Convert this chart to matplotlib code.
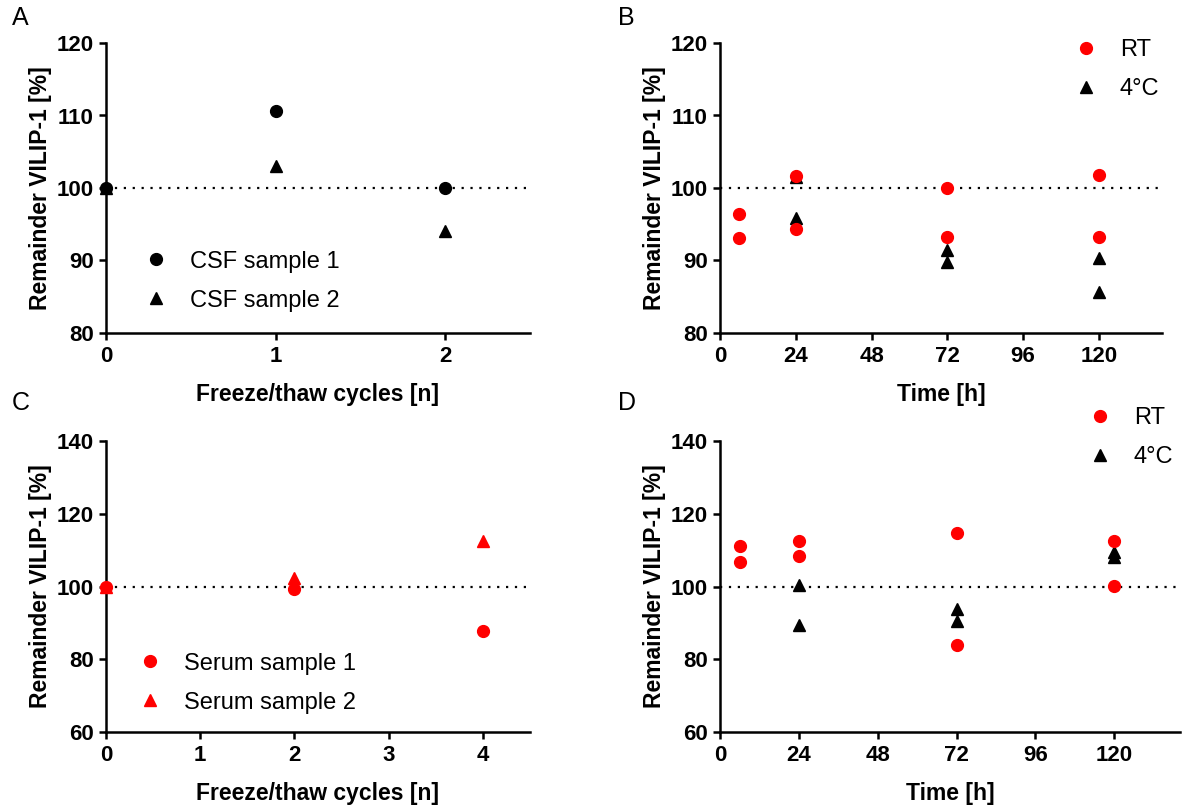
import matplotlib.pyplot as plt

plt.rcParams["font.family"] = ["Liberation Sans", "DejaVu Sans"]

# Panel A: CSF freeze/thaw
cycles_a = [0, 1, 2]
csf_sample1 = [100.0, 110.6, 100.0]
csf_sample2 = [100.0, 103.0, 94.0]

# Panel B: CSF storage time
rt_time_b = [6, 6, 24, 24, 72, 72, 120, 120]
rt_vals_b = [96.4, 93.1, 101.7, 94.4, 100.0, 93.2, 101.8, 93.2]
cold_time_b = [24, 24, 72, 72, 120, 120]
cold_vals_b = [101.5, 95.9, 91.4, 89.8, 90.4, 85.6]

# Panel C: serum freeze/thaw
cycles_c = [0, 2, 4]
serum_sample1 = [100.0, 99.4, 87.8]
serum_sample2 = [100.0, 102.4, 112.5]

# Panel D: serum storage time
rt_time_d = [6, 6, 24, 24, 72, 72, 120, 120]
rt_vals_d = [111.1, 106.6, 112.5, 108.3, 114.8, 83.8, 112.5, 100.2]
cold_time_d = [24, 24, 72, 72, 120, 120]
cold_vals_d = [100.4, 89.4, 93.7, 90.6, 109.5, 108.1]

W, H = 1184, 805
fig = plt.figure(figsize=(W / 100, H / 100), dpi=100)


def make_axes(left, right, top, bottom):
    return fig.add_axes([left / W, 1 - bottom / H, (right - left) / W, (bottom - top) / H])


def style(ax, xlabel):
    for side in ["top", "right"]:
        ax.spines[side].set_visible(False)
    for side in ["left", "bottom"]:
        ax.spines[side].set_linewidth(1.8)
    ax.tick_params(width=1.8, length=5, labelsize=16, pad=4)
    for lab in ax.get_xticklabels() + ax.get_yticklabels():
        lab.set_fontweight("bold")
    ax.set_xlabel(xlabel, fontsize=16.5, fontweight="bold", labelpad=12)
    ax.set_ylabel("Remainder VILIP-1 [%]", fontsize=16.5, fontweight="bold", labelpad=3)
    ax.axhline(100, color="black", linestyle=(0, (1, 3)), linewidth=1.6, zorder=1)


ms = 8.5
leg_kw = dict(frameon=False, fontsize=17, handletextpad=0.95, labelspacing=0.72, handlelength=1.0)

ax_a = make_axes(106, 530, 43, 333)
ax_b = make_axes(720, 1162, 43, 333)
ax_c = make_axes(106, 530, 441, 732)
ax_d = make_axes(720, 1180, 441, 732)

# A
ax_a.plot(cycles_a, csf_sample1, "o", color="black", ms=ms, label="CSF sample 1", clip_on=False, zorder=3)
ax_a.plot(cycles_a, csf_sample2, "^", color="black", ms=ms, label="CSF sample 2", clip_on=False, zorder=3)
ax_a.set_xlim(0, 2.5)
ax_a.set_ylim(80, 120)
ax_a.set_xticks([0, 1, 2])
ax_a.set_yticks([80, 90, 100, 110, 120])
style(ax_a, "Freeze/thaw cycles [n]")
ax_a.legend(loc="lower left", bbox_to_anchor=(0.04, 0.0), **leg_kw)

# B
ax_b.plot(rt_time_b, rt_vals_b, "o", color="red", ms=ms, label="RT", clip_on=False, zorder=3)
ax_b.plot(cold_time_b, cold_vals_b, "^", color="black", ms=ms, label="4°C", clip_on=False, zorder=2)
ax_b.set_xlim(0, 140)
ax_b.set_ylim(80, 120)
ax_b.set_xticks([0, 24, 48, 72, 96, 120])
ax_b.set_yticks([80, 90, 100, 110, 120])
style(ax_b, "Time [h]")
ax_b.legend(loc="upper right", bbox_to_anchor=(1.042, 1.086), **leg_kw)

# C
ax_c.plot(cycles_c, serum_sample1, "o", color="red", ms=ms, label="Serum sample 1", clip_on=False, zorder=3)
ax_c.plot(cycles_c, serum_sample2, "^", color="red", ms=ms, label="Serum sample 2", clip_on=False, zorder=3)
ax_c.set_xlim(0, 4.5)
ax_c.set_ylim(60, 140)
ax_c.set_xticks([0, 1, 2, 3, 4])
ax_c.set_yticks([60, 80, 100, 120, 140])
style(ax_c, "Freeze/thaw cycles [n]")
ax_c.legend(loc="lower left", bbox_to_anchor=(0.025, -0.01), **leg_kw)

# D
ax_d.plot(rt_time_d, rt_vals_d, "o", color="red", ms=ms, label="RT", clip_on=False, zorder=3)
ax_d.plot(cold_time_d, cold_vals_d, "^", color="black", ms=ms, label="4°C", clip_on=False, zorder=2)
ax_d.set_xlim(0, 140)
ax_d.set_ylim(60, 140)
ax_d.set_xticks([0, 24, 48, 72, 96, 120])
ax_d.set_yticks([60, 80, 100, 120, 140])
style(ax_d, "Time [h]")
ax_d.legend(loc="upper right", bbox_to_anchor=(1.032, 1.19), **leg_kw)

for label, (x, y) in zip("ABCD", [(12, 18), (618, 18), (12, 403), (618, 403)]):
    fig.text(x / W, 1 - y / H, label, fontsize=18, va="center", ha="left")

fig.savefig("out.png", dpi=100)
